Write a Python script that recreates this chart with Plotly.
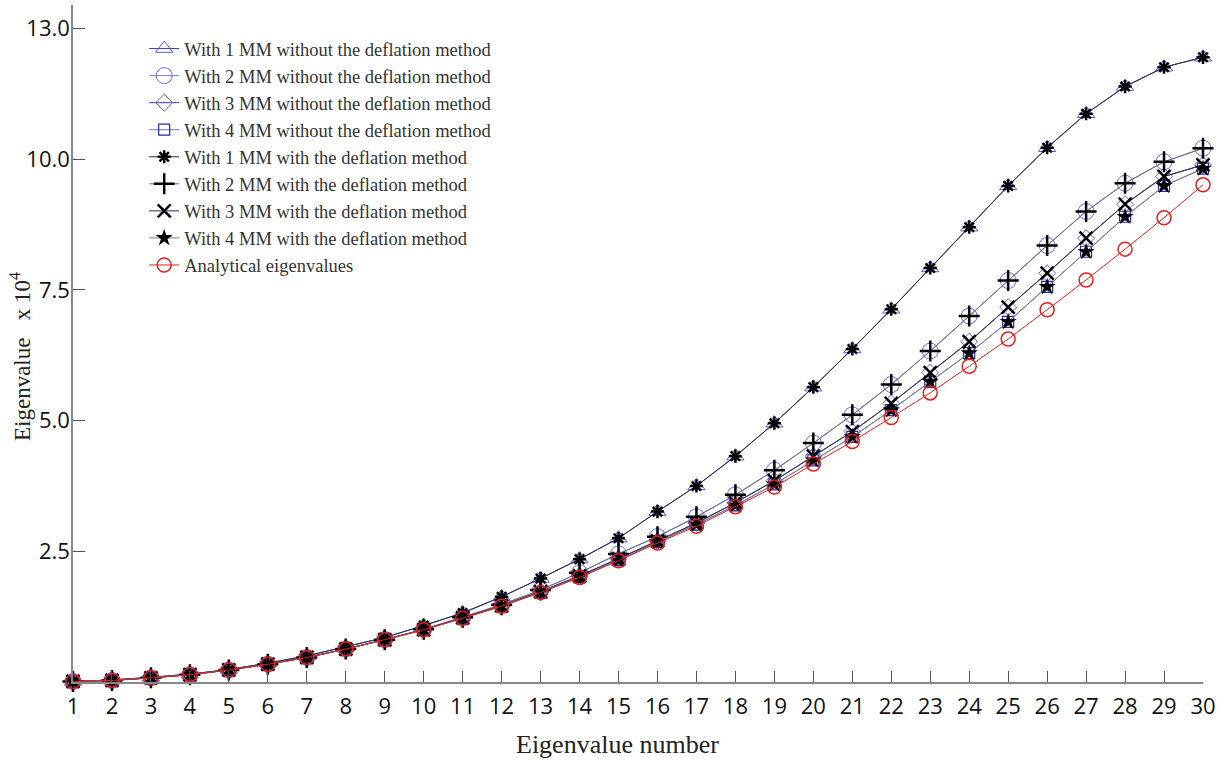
import plotly.graph_objects as go

# Eigenvalue index
eig_number = list(range(1, 31))

# Eigenvalues in units of 1e4
analytical = [0.01, 0.03, 0.08, 0.14, 0.23, 0.34, 0.47, 0.63, 0.81, 1.00,
              1.22, 1.45, 1.71, 2.00, 2.32, 2.66, 2.98, 3.35, 3.73, 4.17,
              4.60, 5.06, 5.53, 6.04, 6.56, 7.12, 7.69, 8.28, 8.88, 9.51]

mm1 = [0.01, 0.04, 0.09, 0.15, 0.24, 0.36, 0.50, 0.67, 0.85, 1.08,
       1.32, 1.63, 1.98, 2.35, 2.75, 3.26, 3.75, 4.32, 4.95, 5.64,
       6.37, 7.13, 7.92, 8.70, 9.49, 10.22, 10.87, 11.39, 11.76, 11.95]

mm2 = [0.01, 0.03, 0.08, 0.14, 0.23, 0.34, 0.47, 0.63, 0.81, 1.01,
       1.24, 1.48, 1.76, 2.09, 2.45, 2.78, 3.16, 3.58, 4.05, 4.57,
       5.11, 5.69, 6.33, 7.00, 7.68, 8.35, 9.00, 9.54, 9.95, 10.21]

mm3 = [0.01, 0.03, 0.08, 0.14, 0.23, 0.34, 0.47, 0.63, 0.81, 1.00,
       1.23, 1.46, 1.73, 2.03, 2.36, 2.70, 3.04, 3.43, 3.85, 4.32,
       4.79, 5.33, 5.92, 6.51, 7.17, 7.82, 8.49, 9.14, 9.67, 9.89]

mm4 = [0.01, 0.03, 0.08, 0.14, 0.23, 0.34, 0.47, 0.63, 0.81, 1.00,
       1.22, 1.45, 1.72, 2.01, 2.33, 2.68, 3.01, 3.38, 3.78, 4.24,
       4.69, 5.20, 5.74, 6.29, 6.89, 7.56, 8.23, 8.90, 9.49, 9.82]

y_tick_vals = [2.5, 5.0, 7.5, 10.0, 12.5]
y_tick_text = ["2.5", "5.0", "7.5", "10.0", "13.0"]

# (name, values, line colour, marker symbol, marker size, marker colour, marker line width)
series = [
    ("With 1 MM without the deflation method", mm1, "#3a3aa8", "triangle-up-open", 15, "#5a5ae6", 1),
    ("With 2 MM without the deflation method", mm2, "#7a7ad8", "circle-open", 16, "#6a6ae6", 1),
    ("With 3 MM without the deflation method", mm3, "#3a3ab0", "diamond-open", 13, "#6060e0", 1),
    ("With 4 MM without the deflation method", mm4, "#7070c8", "square-open", 11, "#2a2aaa", 1.2),
    ("With 1 MM with the deflation method", mm1, "#2a2a48", "asterisk-open", 11, "#000000", 2.5),
    ("With 2 MM with the deflation method", mm2, "#6a6a7a", "cross-thin-open", 15, "#000000", 2.5),
    ("With 3 MM with the deflation method", mm3, "#2a2a48", "x-thin-open", 13, "#000000", 2.5),
    ("With 4 MM with the deflation method", mm4, "#7a7a88", "star", 13, "#000000", 0),
    ("Analytical eigenvalues", analytical, "#e02020", "circle-open", 14, "#e02020", 1.5),
]

fig = go.Figure()
for i, (name, vals, lcol, sym, size, mcol, mlw) in enumerate(series):
    fig.add_trace(go.Scatter(
        x=eig_number, y=vals, name=name, mode="lines+markers",
        line=dict(color=lcol, width=1),
        marker=dict(symbol=sym, size=size, color=mcol,
                    line=dict(color=mcol, width=mlw)),
        cliponaxis=False, legendgroup=f"g{i}",
    ))

fig.update_layout(
    width=1227, height=763,
    margin=dict(l=73, r=24, t=5, b=81),
    paper_bgcolor="white", plot_bgcolor="white",
    showlegend=True,
    legend=dict(
        x=0.063, y=0.963, xanchor="left", yanchor="top",
        font=dict(family="Liberation Serif", size=18.5, color="#333333"),
        bgcolor="rgba(0,0,0,0)", borderwidth=0,
        traceorder="grouped", tracegroupgap=0,
    ),
    xaxis=dict(
        range=[1, 30], tickmode="array", tickvals=eig_number,
        ticks="inside", ticklen=11, tickcolor="#555555", tickwidth=1,
        showline=True, linecolor="#888888", linewidth=1.5,
        showgrid=False, zeroline=False, ticklabelstandoff=4,
        tickfont=dict(family="Open Sans", size=22, color="#111111"),
    ),
    yaxis=dict(
        range=[0, 12.95], tickmode="array", tickvals=y_tick_vals, ticktext=y_tick_text,
        ticks="inside", ticklen=12, tickcolor="#555555", tickwidth=1,
        showline=True, linecolor="#888888", linewidth=1.5,
        showgrid=False, zeroline=False, ticklabelstandoff=-3,
        tickfont=dict(family="Open Sans", size=22, color="#111111"),
    ),
    annotations=[
        dict(text="Eigenvalue number", xref="paper", yref="paper",
             x=(617 - 73) / 1130, y=-0.092, xanchor="center", yanchor="middle",
             showarrow=False, font=dict(family="Liberation Serif", size=26, color="#222222")),
        dict(text="Eigenvalue\u00a0\u00a0\u00a0x 10<sup>4</sup>", xref="paper", yref="paper",
             x=(21 - 73) / 1130, y=(682 - 357) / 677, xanchor="center", yanchor="middle",
             textangle=-90, showarrow=False,
             font=dict(family="Liberation Serif", size=23, color="#222222")),
    ],
)

fig.write_html("out.html")
